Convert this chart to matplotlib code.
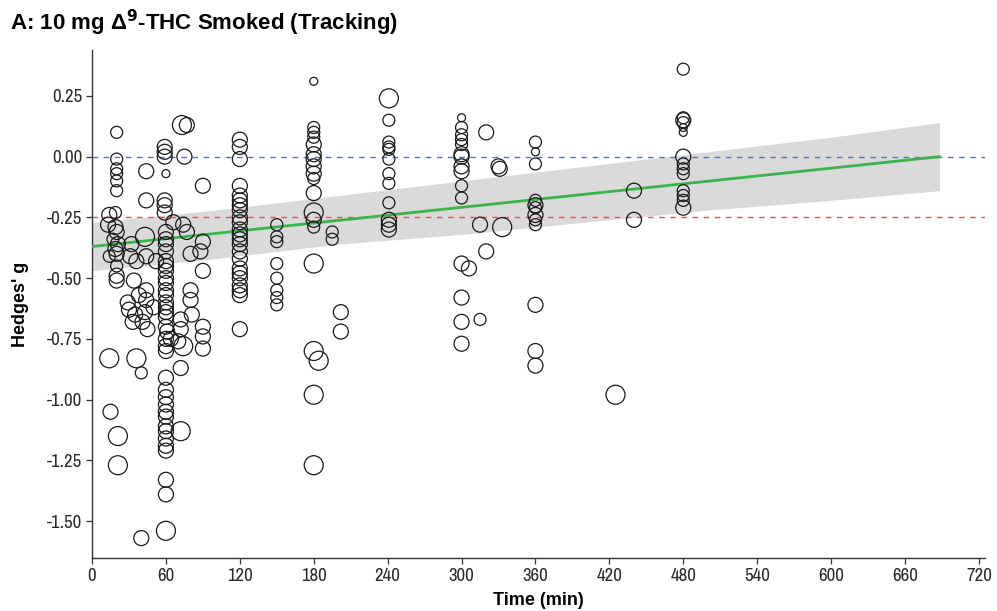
import matplotlib
matplotlib.use("Agg")
import matplotlib.pyplot as plt
from matplotlib import font_manager as fm
import numpy as np

# ---------------- data ----------------
time_min = [
    20, 20, 20, 20, 20, 20, 14, 19, 13, 19, 20, 17, 21, 19, 14, 20, 20, 20, 20, 14, 15, 21, 21,
    32, 31, 34, 29, 30, 35, 38, 33, 36, 40, 40, 36,
    44, 44, 43, 44, 44, 44, 43, 41, 45, 50, 52,
    59, 59, 59, 60, 59, 59, 59, 60, 60, 60, 60, 60, 60, 60, 60, 60, 60, 60, 60, 60, 60, 60, 60, 61,
    60, 60, 60, 60, 60, 60, 60, 60, 60, 60, 60, 60, 60, 60, 60, 60,
    66, 73, 77, 75, 74, 77, 80, 80, 80, 81, 72, 72, 64, 70, 74, 72, 72, 88, 90, 90, 90, 90, 90, 90,
    120, 120, 120, 120, 120, 120, 120, 120, 120, 120, 120, 120, 120, 120, 120, 120, 120, 120, 120, 120,
    120, 120, 120,
    150, 150, 150, 150, 150, 150, 150, 150,
    180, 180, 180, 180, 180, 180, 180, 180, 180, 180, 180, 180, 180, 180, 180, 180, 184, 180, 180,
    195, 195, 202, 202,
    241, 241, 241, 241, 241, 241, 241, 241, 241, 241, 241, 241,
    300, 300, 300, 300, 300, 300, 300, 300, 300, 300, 300, 300, 306, 300, 300, 300,
    320, 330, 331, 315, 333, 320, 315,
    360, 360, 360, 360, 360, 360, 360, 360, 360, 360, 360, 360,
    425, 440, 440,
    480, 480, 480, 480, 480, 480, 480, 480, 480, 480, 480, 480, 480, 480,
    60,
]
hedges_g = [
    0.10, -0.01, -0.05, -0.07, -0.10, -0.14, -0.24, -0.23, -0.28, -0.29, -0.31, -0.34, -0.36, -0.38,
    -0.41, -0.40, -0.45, -0.49, -0.51, -0.83, -1.05, -1.15, -1.27,
    -0.36, -0.41, -0.51, -0.60, -0.63, -0.65, -0.57, -0.68, -0.83, -0.89, -1.57, -0.43,
    -0.06, -0.18, -0.33, -0.41, -0.55, -0.59, -0.64, -0.68, -0.71, -0.62, -0.43,
    0.04, 0.02, 0.00, -0.07, -0.18, -0.20, -0.23, -0.31, -0.34, -0.36, -0.39, -0.43, -0.45, -0.47,
    -0.50, -0.52, -0.55, -0.57, -0.60, -0.62, -0.64, -0.66, -0.70, -0.72,
    -0.75, -0.78, -0.80, -0.91, -0.96, -0.99, -1.02, -1.05, -1.07, -1.11, -1.13, -1.16, -1.19, -1.21,
    -1.33, -1.39,
    -0.27, 0.13, 0.13, 0.00, -0.28, -0.31, -0.40, -0.55, -0.59, -0.65, -0.67, -0.71, -0.75, -0.76,
    -0.78, -0.87, -1.13, -0.39, -0.12, -0.35, -0.47, -0.70, -0.74, -0.79,
    0.07, 0.04, -0.01, -0.12, -0.16, -0.18, -0.20, -0.22, -0.25, -0.27, -0.30, -0.32, -0.34, -0.36,
    -0.39, -0.42, -0.46, -0.48, -0.50, -0.53, -0.55, -0.57, -0.71,
    -0.28, -0.33, -0.35, -0.44, -0.50, -0.55, -0.58, -0.61,
    0.31, 0.12, 0.10, 0.08, 0.05, 0.01, -0.01, -0.04, -0.07, -0.09, -0.15, -0.23, -0.26, -0.29,
    -0.44, -0.80, -0.84, -0.98, -1.27,
    -0.31, -0.34, -0.64, -0.72,
    0.24, 0.15, 0.06, 0.04, 0.03, -0.01, -0.07, -0.11, -0.19, -0.26, -0.28, -0.30,
    0.16, 0.12, 0.09, 0.07, 0.05, 0.01, 0.00, -0.04, -0.06, -0.12, -0.17, -0.44, -0.46, -0.58,
    -0.68, -0.77,
    0.10, -0.04, -0.05, -0.28, -0.29, -0.39, -0.67,
    0.06, 0.02, -0.03, -0.18, -0.20, -0.21, -0.24, -0.26, -0.28, -0.61, -0.80, -0.86,
    -0.98, -0.14, -0.26,
    0.36, 0.16, 0.15, 0.14, 0.12, 0.10, 0.00, -0.03, -0.05, -0.07, -0.14, -0.16, -0.18, -0.21,
    -1.54,
]
weight = [
    2, 2, 2, 2, 2, 2, 3, 2, 3, 3, 3, 2, 3, 3, 2, 3, 2, 3, 3, 4, 3, 4, 4,
    3, 3, 3, 3, 3, 3, 3, 3, 4, 2, 3, 3,
    3, 3, 4, 3, 3, 3, 3, 3, 3, 3, 3,
    3, 3, 3, 1, 3, 3, 3, 3, 3, 3, 3, 3, 3, 3, 3, 3, 3, 3, 3, 3, 3, 3, 3, 3,
    3, 3, 3, 3, 3, 3, 3, 3, 3, 3, 3, 3, 3, 3, 3, 3,
    3, 4, 3, 3, 3, 3, 3, 3, 3, 3, 3, 3, 3, 3, 4, 3, 4, 3, 3, 3, 3, 3, 3, 3,
    3, 3, 3, 3, 3, 3, 3, 3, 3, 3, 3, 3, 3, 3, 3, 3, 3, 3, 3, 3, 3, 3, 3,
    2, 2, 2, 2, 2, 2, 2, 2,
    1, 2, 2, 2, 3, 3, 3, 3, 3, 2, 3, 4, 3, 2, 4, 4, 4, 4, 4,
    2, 2, 3, 3,
    4, 2, 2, 2, 2, 2, 2, 2, 2, 3, 3, 3,
    1, 2, 2, 2, 2, 3, 3, 3, 3, 2, 2, 3, 3, 3, 3, 3,
    3, 3, 3, 3, 4, 3, 2,
    2, 1, 2, 2, 3, 2, 3, 2, 2, 3, 3, 3,
    4, 3, 3,
    2, 2, 3, 2, 1, 1, 3, 2, 2, 2, 2, 2, 2, 3,
    4,
]

# meta-regression fit and its confidence band
fit_x = [0, 688]
fit_y = [-0.37, 0.00]
band_x = [0, 100, 200, 300, 400, 500, 600, 688]
band_lo = [-0.47, -0.42, -0.36, -0.32, -0.27, -0.22, -0.18, -0.14]
band_hi = [-0.27, -0.22, -0.16, -0.10, -0.04, 0.02, 0.08, 0.14]

ref_null = 0.00
ref_small = -0.25

x_ticks = list(range(0, 721, 60))
y_ticks = [0.25, 0.00, -0.25, -0.50, -0.75, -1.00, -1.25, -1.50]

# ---------------- fonts ----------------
names = {f.name for f in fm.fontManager.ttflist}
main_font = "Liberation Sans" if "Liberation Sans" in names else "DejaVu Sans"
narrow_candidates = sorted(n for n in names if ("Narrow" in n or "Condensed" in n))
if "Liberation Sans Narrow" in names:
    tick_props = dict(family=["Liberation Sans Narrow", "DejaVu Sans"])
elif narrow_candidates:
    tick_props = dict(family=[narrow_candidates[0], "DejaVu Sans"])
else:
    cond = fm.findfont(fm.FontProperties(family="DejaVu Sans", stretch="condensed"))
    if "Condensed" in cond:
        tick_props = dict(family=["DejaVu Sans"], stretch="condensed")
    else:
        tick_props = dict(family=[main_font, "DejaVu Sans"])

plt.rcParams["font.family"] = [main_font, "DejaVu Sans"]
plt.rcParams["axes.unicode_minus"] = False

# ---------------- figure ----------------
fig = plt.figure(figsize=(9.97, 6.11), dpi=100)
ax = fig.add_axes([0.0923, 0.0867, 0.8957, 0.8313])

ax.fill_between(band_x, band_lo, band_hi, color="#d4d4d4", alpha=0.85, lw=0, zorder=1)
ax.axhline(ref_null, color="#5878a8", lw=1.0, ls=(0, (4, 4)), zorder=2)
ax.axhline(ref_small, color="#c86060", lw=1.0, ls=(0, (4, 4)), zorder=2)
ax.plot(fit_x, fit_y, color="#3cb44b", lw=2.0, zorder=3)

w = np.asarray(weight, dtype=int)
radius_px = np.array([0, 4.0, 6.0, 7.5, 9.5])[w]
sizes = (2 * radius_px * 72 / 100) ** 2
ax.scatter(time_min, hedges_g, s=sizes, facecolors="none", edgecolors="#1a1a1a",
           linewidths=0.9, zorder=4)

ax.set_xlim(0, 725)
ax.set_ylim(-1.652, 0.4385)
ax.set_xticks(x_ticks)
ax.set_yticks(y_ticks)
ax.set_yticklabels([f"{v:.2f}" for v in y_ticks])

for side in ("top", "right"):
    ax.spines[side].set_visible(False)
for side in ("left", "bottom"):
    ax.spines[side].set_color("#333333")
    ax.spines[side].set_linewidth(1.0)
ax.tick_params(axis="both", direction="out", length=4, width=0.9, color="#333333",
               labelsize=13.5, labelcolor="#2a2a2a", pad=3)
for lab in ax.get_xticklabels() + ax.get_yticklabels():
    lab.set_family(tick_props["family"])
    if "stretch" in tick_props:
        lab.set_stretch(tick_props["stretch"])

ax.set_xlabel("Time (min)", fontsize=13, fontweight="bold", labelpad=6)
ax.set_ylabel("Hedges' g", fontsize=13, fontweight="bold", labelpad=13)

fig.text(0.010, 0.962, r"A: 10 mg Δ$^{\mathbf{9}}$-THC Smoked (Tracking)", fontsize=16,
         fontweight="bold", ha="left", va="center")

fig.savefig("out.png", dpi=100, facecolor="white")
